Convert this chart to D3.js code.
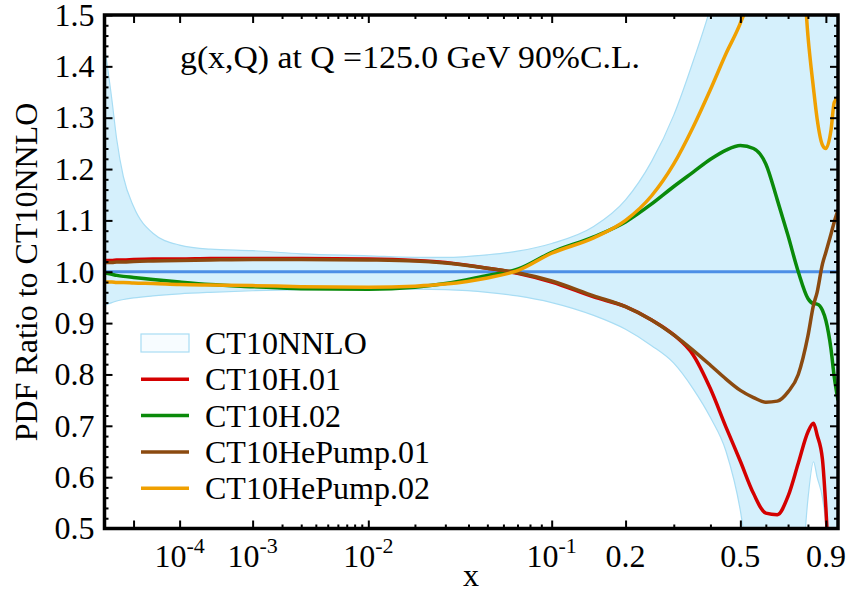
<!DOCTYPE html>
<html><head><meta charset="utf-8">
<script src="https://cdn.jsdelivr.net/npm/d3@7"></script>
<style>body{margin:0;background:#fff}</style>
</head><body>
<svg id="chart" width="850" height="592"></svg>
<script>
// ---------- data ----------
const xGrid = [1e-6, 2e-6, 3e-6, 5e-6, 1e-5, 3e-5, 1e-4, 3e-4, 1e-3, 3e-3, 1e-2, 2e-2, 3e-2, 5e-2, 0.07,
  0.1, 0.15, 0.2, 0.25, 0.3, 0.35, 0.4, 0.45, 0.5, 0.55, 0.6, 0.65, 0.7, 0.75, 0.8, 0.83, 0.85, 0.88, 0.9, 0.93, 0.95, 0.973];
const bandUpper = [1.44, 1.335, 1.258, 1.185, 1.127, 1.075, 1.052, 1.044, 1.041, 1.035, 1.031, 1.028, 1.028, 1.033, 1.04,
  1.055, 1.088, 1.14, 1.215, 1.305, 1.41, 1.515, 1.64, 1.78, 1.95, 2.1, 2.25, 2.4, 2.5, 2.6, 2.65, 2.7, 2.75, 2.8, 2.85, 2.9, 2.95];
const bandLower = [0.935, 0.94, 0.943, 0.946, 0.949, 0.953, 0.957, 0.96, 0.963, 0.965, 0.966, 0.966, 0.965, 0.96, 0.953,
  0.94, 0.915, 0.888, 0.856, 0.822, 0.772, 0.716, 0.65, 0.535, 0.35, 0.2, 0.1, 0.1, 0.3, 0.557, 0.63, 0.60, 0.56, 0.505, 0.3, 0.2, 0.1];
const ct10h01 = [1.022, 1.022, 1.023, 1.023, 1.024, 1.025, 1.025, 1.026, 1.026, 1.026, 1.025, 1.022, 1.018, 1.007, 0.997,
  0.980, 0.951, 0.932, 0.906, 0.877, 0.838, 0.772, 0.697, 0.631, 0.568, 0.530, 0.527, 0.563, 0.627, 0.688, 0.705, 0.682, 0.635, 0.54, 0.35, 0.25, 0.2];
const ct10h02 = [0.998, 0.995, 0.993, 0.991, 0.989, 0.985, 0.980, 0.975, 0.971, 0.967, 0.966, 0.970, 0.977, 0.993, 1.005,
  1.038, 1.068, 1.097, 1.132, 1.166, 1.194, 1.219, 1.237, 1.246, 1.240, 1.21, 1.14, 1.07, 1.0, 0.948, 0.938, 0.937, 0.925, 0.905, 0.85, 0.795, 0.75];
const hePump01 = [1.018, 1.018, 1.019, 1.019, 1.020, 1.021, 1.022, 1.023, 1.024, 1.024, 1.023, 1.021, 1.017, 1.007, 0.998,
  0.982, 0.953, 0.932, 0.906, 0.877, 0.847, 0.818, 0.791, 0.769, 0.755, 0.746, 0.748, 0.766, 0.80, 0.875, 0.935, 0.96, 1.015, 1.038, 1.073, 1.097, 1.12];
const hePump02 = [0.980, 0.980, 0.979, 0.979, 0.978, 0.977, 0.975, 0.974, 0.973, 0.971, 0.970, 0.972, 0.976, 0.988, 1.002,
  1.036, 1.066, 1.100, 1.148, 1.21, 1.282, 1.355, 1.425, 1.484, 1.56, 1.7, 1.85, 1.9, 1.75, 1.46, 1.357, 1.298, 1.247, 1.24, 1.275, 1.33, 1.34];

const seriesNames = ["CT10H.01", "CT10H.02", "CT10HePump.01", "CT10HePump.02"];
const seriesValues = [ct10h01, ct10h02, hePump01, hePump02];
const seriesColors = ["#d40000", "#0a8a0a", "#8b4a10", "#f0a000"];
const bandName = "CT10NNLO";

const yMajorTicks = [0.5, 0.6, 0.7, 0.8, 0.9, 1.0, 1.1, 1.2, 1.3, 1.4, 1.5];
const yMinorTicks = d3.range(0.52, 1.5, 0.02).filter(v => Math.abs(v * 10 - Math.round(v * 10)) > 1e-6);
const xMajorTicks = [1e-5, 1e-4, 1e-3, 1e-2, 0.1, 0.2, 0.5, 0.9];
const xMinorTicks = [2e-3, 3e-3, 4e-3, 5e-3, 6e-3, 7e-3, 8e-3, 9e-3, 2e-2, 3e-2, 4e-2, 5e-2, 6e-2, 7e-2, 8e-2, 9e-2, 0.3, 0.4, 0.6, 0.7, 0.8];
const xLabelValues = [1e-4, 1e-3, 1e-2, 0.1, 0.2, 0.5, 0.9];
const xLabelBase = ["10", "10", "10", "10", "0.2", "0.5", "0.9"];
const xLabelExp = ["-4", "-3", "-2", "-1", "", "", ""];

// ---------- layout ----------
const L = 104.5, R = 838, T = 15, B = 528.5;
const FONT = "'Liberation Serif','DejaVu Serif',serif";
const svg = d3.select("#chart");

const x = d3.scalePow().exponent(0.2).domain([1e-6, 0.973]).range([L, R]);
const y = d3.scaleLinear().domain([0.5, 1.5]).range([B, T]);

svg.append("defs").append("clipPath").attr("id", "clip")
  .append("rect").attr("x", L).attr("y", T).attr("width", R - L).attr("height", B - T);

const plot = svg.append("g").attr("clip-path", "url(#clip)");

const bandData = xGrid.map((v, i) => ({x: v, lo: bandLower[i], hi: bandUpper[i]}));
const curve = d3.curveMonotoneX;

plot.append("path").datum(bandData)
  .attr("d", d3.area().x(d => x(d.x)).y0(d => y(d.lo)).y1(d => y(d.hi)).curve(curve))
  .attr("fill", "#d5f0fc").attr("stroke", "none");
plot.append("path").datum(bandData)
  .attr("d", d3.line().x(d => x(d.x)).y(d => y(d.hi)).curve(curve))
  .attr("fill", "none").attr("stroke", "#a8ddf4").attr("stroke-width", 1.2);
plot.append("path").datum(bandData)
  .attr("d", d3.line().x(d => x(d.x)).y(d => y(d.lo)).curve(curve))
  .attr("fill", "none").attr("stroke", "#a8ddf4").attr("stroke-width", 1.2);

// central line
plot.append("line").attr("x1", L).attr("x2", R).attr("y1", y(1.0)).attr("y2", y(1.0))
  .attr("stroke", "#4d8fe6").attr("stroke-width", 3);

seriesValues.forEach((vals, k) => {
  plot.append("path").datum(xGrid.map((v, i) => ({x: v, y: vals[i]})))
    .attr("d", d3.line().x(d => x(d.x)).y(d => y(d.y)).curve(curve))
    .attr("fill", "none").attr("stroke", seriesColors[k]).attr("stroke-width", 3.5)
    .attr("stroke-linejoin", "round");
});

// ---------- axes ----------
function styleAxis(g) {
  g.select(".domain").remove();
  g.selectAll(".tick line").attr("stroke", "#000").attr("stroke-width", 2);
}
svg.append("g").attr("transform", `translate(0,${B})`)
  .call(d3.axisBottom(x).tickValues(xMajorTicks).tickSize(-8).tickFormat("")).call(styleAxis);
svg.append("g").attr("transform", `translate(0,${B})`)
  .call(d3.axisBottom(x).tickValues(xMinorTicks).tickSize(-4).tickFormat("")).call(styleAxis);
svg.append("g").attr("transform", `translate(0,${T})`)
  .call(d3.axisTop(x).tickValues(xMajorTicks).tickSize(-8).tickFormat("")).call(styleAxis);
svg.append("g").attr("transform", `translate(0,${T})`)
  .call(d3.axisTop(x).tickValues(xMinorTicks).tickSize(-4).tickFormat("")).call(styleAxis);

const yLeft = svg.append("g").attr("transform", `translate(${L},0)`)
  .call(d3.axisLeft(y).tickValues(yMajorTicks).tickSize(-8).tickPadding(10).tickFormat(d3.format(".1f")))
  .call(styleAxis);
yLeft.selectAll("text").attr("font-family", FONT).attr("font-size", 32).attr("fill", "#000");
svg.append("g").attr("transform", `translate(${L},0)`)
  .call(d3.axisLeft(y).tickValues(yMinorTicks).tickSize(-4).tickFormat("")).call(styleAxis);
svg.append("g").attr("transform", `translate(${R},0)`)
  .call(d3.axisRight(y).tickValues(yMajorTicks).tickSize(-8).tickFormat("")).call(styleAxis);
svg.append("g").attr("transform", `translate(${R},0)`)
  .call(d3.axisRight(y).tickValues(yMinorTicks).tickSize(-4).tickFormat("")).call(styleAxis);

// x tick labels with superscripts
xLabelValues.forEach((v, i) => {
  const t = svg.append("text").attr("x", x(v)).attr("y", 567)
    .attr("text-anchor", "middle").attr("font-family", FONT).attr("font-size", 32).attr("fill", "#000");
  t.append("tspan").text(xLabelBase[i]);
  if (xLabelExp[i]) t.append("tspan").attr("dy", -14).attr("font-size", 22).text(xLabelExp[i]);
});

// frame
svg.append("rect").attr("x", L).attr("y", T).attr("width", R - L).attr("height", B - T)
  .attr("fill", "none").attr("stroke", "#000").attr("stroke-width", 3.5);

// axis titles
svg.append("text").attr("x", 471).attr("y", 586).attr("text-anchor", "middle")
  .attr("font-family", FONT).attr("font-size", 32).text("x");
svg.append("text").attr("transform", "translate(37,272) rotate(-90)").attr("text-anchor", "middle")
  .attr("font-family", FONT).attr("font-size", 32).text("PDF Ratio to CT10NNLO");

// title
svg.append("text").attr("x", 180).attr("y", 68)
  .attr("font-family", FONT).attr("font-size", 32)
  .attr("textLength", 460).attr("lengthAdjust", "spacingAndGlyphs")
  .text("g(x,Q) at Q =125.0 GeV 90%C.L.");

// legend
const lgX0 = 141, lgX1 = 189, lgTextX = 205, lgY0 = 343, lgStep = 36.3;
const lg = svg.append("g");
lg.append("rect").attr("x", lgX0).attr("y", lgY0 - 9).attr("width", lgX1 - lgX0).attr("height", 18)
  .attr("fill", "#f7fcff").attr("stroke", "#a8ddf4").attr("stroke-width", 1.2);
lg.append("text").attr("x", lgTextX).attr("y", lgY0 + 11).attr("font-family", FONT).attr("font-size", 32).text(bandName);
seriesNames.forEach((n, k) => {
  const cy = lgY0 + lgStep * (k + 1);
  lg.append("line").attr("x1", lgX0).attr("x2", lgX1).attr("y1", cy).attr("y2", cy)
    .attr("stroke", seriesColors[k]).attr("stroke-width", 3.5);
  lg.append("text").attr("x", lgTextX).attr("y", cy + 11).attr("font-family", FONT).attr("font-size", 32).text(n);
});
</script>
</body></html>
